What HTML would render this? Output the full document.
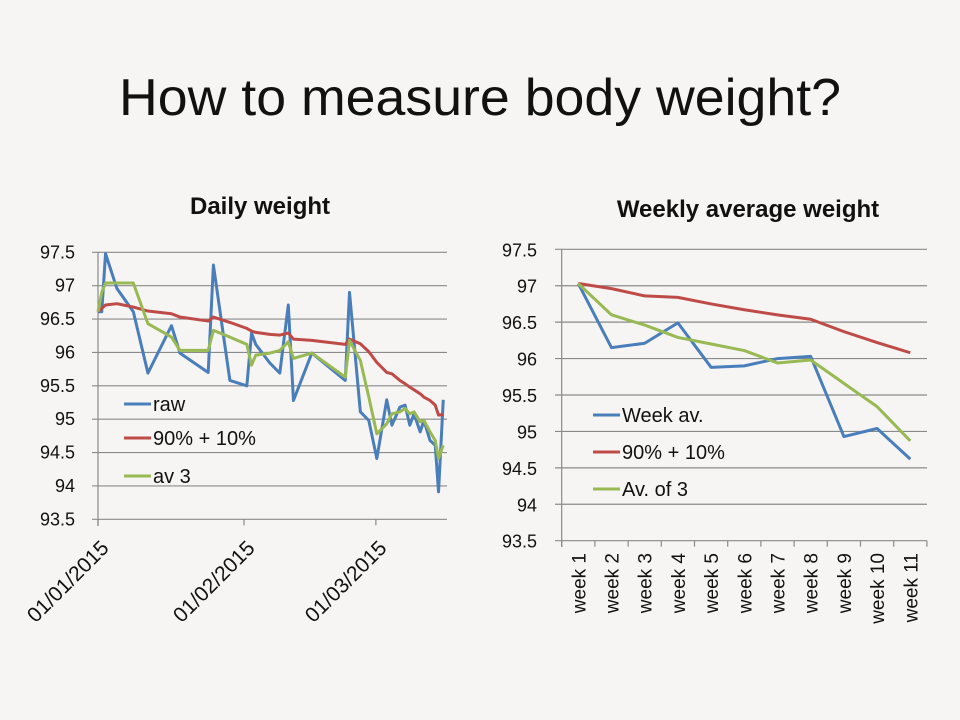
<!DOCTYPE html>
<html><head><meta charset="utf-8"><style>
html,body{margin:0;padding:0;background:#f6f5f3;}
svg{display:block;font-family:"Liberation Sans",Arial,sans-serif;}
</style></head><body>
<svg id="s" width="960" height="720" viewBox="0 0 960 720">
<rect width="960" height="720" fill="#f6f5f3"/>
<text x="480" y="115" text-anchor="middle" font-size="52" textLength="722" lengthAdjust="spacingAndGlyphs" fill="#111">How to measure body weight?</text>
<text x="260" y="214" text-anchor="middle" font-size="24" font-weight="bold" fill="#111">Daily weight</text>
<text x="748" y="217" text-anchor="middle" font-size="24" font-weight="bold" fill="#111">Weekly average weight</text>
<g id="L"></g>
<g id="R"></g>
</svg>
<script>
// Daily chart data (day index from 01/01/2015)
const rawDays=[0,0.8,1.6,4,7.5,10.6,15.6,17.4,23.4,24.5,28,31.6,32.6,33.5,36.5,38.6,40.4,41.5,45.4,52.5,53.4,55.7,57.5,59.2,61.3,62.4,64.1,65.2,66.2,67.1,68.4,69.2,70.5,71.6,72.3,73.3];
const rawVals=[96.61,96.61,97.48,96.96,96.61,95.69,96.4,95.99,95.7,97.31,95.58,95.5,96.29,96.12,95.84,95.69,96.71,95.28,95.99,95.58,96.9,95.11,94.98,94.41,95.29,94.91,95.18,95.21,94.91,95.08,94.81,94.98,94.68,94.61,93.91,95.29];
const emaVals=[96.61,96.66,96.71,96.73,96.68,96.62,96.58,96.53,96.47,96.53,96.45,96.36,96.32,96.3,96.27,96.26,96.29,96.2,96.18,96.12,96.2,96.13,96.01,95.85,95.7,95.68,95.58,95.53,95.48,95.44,95.38,95.33,95.28,95.21,95.06,95.07];
const av3Vals=[96.61,96.9,97.04,97.04,97.04,96.43,96.23,96.03,96.03,96.33,96.23,96.12,95.81,95.96,95.99,96.03,96.16,95.91,95.99,95.63,96.18,95.88,95.33,94.78,94.93,95.08,95.11,95.16,95.08,95.11,94.96,94.98,94.81,94.68,94.41,94.61];
const dateTicks=[0,31,59];
const dateLabels=["01/01/2015","01/02/2015","01/03/2015"];
const yTicks=[97.5,97,96.5,96,95.5,95,94.5,94,93.5];
// Weekly chart data
const weeks=["week 1","week 2","week 3","week 4","week 5","week 6","week 7","week 8","week 9","week 10","week 11"];
const weekAv=[97.03,96.15,96.21,96.49,95.88,95.9,96.0,96.03,94.93,95.04,94.62];
const weekEma=[97.03,96.96,96.86,96.84,96.75,96.67,96.6,96.54,96.37,96.22,96.08];
const weekAv3=[97.03,96.6,96.46,96.29,96.2,96.11,95.94,95.98,95.66,95.34,94.87];

const NS="http://www.w3.org/2000/svg";
function mk(parent,tag,attrs){const e=document.createElementNS(NS,tag);for(const k in attrs)e.setAttribute(k,attrs[k]);parent.appendChild(e);return e;}
const BLUE="#4a7ebb",RED="#be4b48",GREEN="#98b954";

// Left chart
const L=document.getElementById('L');
const lx=d=>98+d*4.71;
const ly=v=>252.3+(97.5-v)*66.75;
yTicks.forEach((t,i)=>{
  const g=mk(L,'line',{x1:92,x2:447,y1:ly(t),y2:ly(t),stroke:'#8a8a8a','stroke-width':1.2});
  
  
  const tx=mk(L,'text',{x:75,y:ly(t)+6,'text-anchor':'end','font-size':18,fill:'#111'});
  tx.textContent=t;
  
  
});
const lax=mk(L,'line',{x1:98,x2:98,y1:252,y2:526,stroke:'#8a8a8a','stroke-width':1.2});


dateTicks.forEach((d,i)=>{
  const tk=mk(L,'line',{x1:lx(d),x2:lx(d),y1:ly(93.5),y2:ly(93.5)+6,stroke:'#8a8a8a','stroke-width':1.2});
  
  
  const x=lx(d)+12,y=ly(93.5)+30;
  const tx=mk(L,'text',{x:x,y:y,'text-anchor':'end','font-size':21,fill:'#111',transform:`rotate(-45 ${x} ${y})`});
  tx.textContent=dateLabels[i];
  
  
});
function series(parent,xs,vals,xf,yf,col,name){
  const p=mk(parent,'polyline',{points:vals.map((v,i)=>xf(xs[i],i)+','+yf(v)).join(' '),fill:'none',stroke:col,'stroke-width':3,'stroke-linejoin':'round'});
  
  
}
series(L,rawDays,rawVals,d=>lx(d),ly,BLUE,'raw-line');
series(L,rawDays,emaVals,d=>lx(d),ly,RED,'ema-line');
series(L,rawDays,av3Vals,d=>lx(d),ly,GREEN,'av3-line');
function legend(parent,x,y,col,label){
  const l=mk(parent,'line',{x1:x,x2:x+27,y1:y,y2:y,stroke:col,'stroke-width':3});
  
  
  const t=mk(parent,'text',{x:x+29,y:y+7,'font-size':20,fill:'#111'});
  t.textContent=label;
  
  
}
legend(L,124,404,BLUE,'raw');
legend(L,124,438,RED,'90% + 10%');
legend(L,124,476,GREEN,'av 3');

// Right chart
const R=document.getElementById('R');
const rx0=561.7,rw=33.2;
const rx=i=>rx0+rw*(i+0.5);
const ry=v=>249.3+(97.5-v)*72.85;
yTicks.forEach(t=>{
  const g=mk(R,'line',{x1:555,x2:927,y1:ry(t),y2:ry(t),stroke:'#8a8a8a','stroke-width':1.2});
  
  
  const tx=mk(R,'text',{x:537,y:ry(t)+7,'text-anchor':'end','font-size':18,fill:'#111'});
  tx.textContent=t;
  
  
});
const rax=mk(R,'line',{x1:rx0,x2:rx0,y1:249,y2:547,stroke:'#8a8a8a','stroke-width':1.2});


for(let i=0;i<=weeks.length;i++){
  const tk=mk(R,'line',{x1:rx0+rw*i,x2:rx0+rw*i,y1:ry(93.5),y2:ry(93.5)+6,stroke:'#8a8a8a','stroke-width':1.2});
  
  
}
weeks.forEach((w,i)=>{
  const x=rx(i)+7,y=553;
  const tx=mk(R,'text',{x:x,y:y,'text-anchor':'end','font-size':19,fill:'#111',transform:`rotate(-90 ${x} ${y})`});
  tx.textContent=w;
  
  
});
series(R,weeks,weekAv,(d,i)=>rx(i),ry,BLUE,'week-av-line');
series(R,weeks,weekEma,(d,i)=>rx(i),ry,RED,'week-ema-line');
series(R,weeks,weekAv3,(d,i)=>rx(i),ry,GREEN,'week-av3-line');
legend(R,593,415,BLUE,'Week av.');
legend(R,593,452,RED,'90% + 10%');
legend(R,593,489,GREEN,'Av. of 3');
</script>
</body></html>
